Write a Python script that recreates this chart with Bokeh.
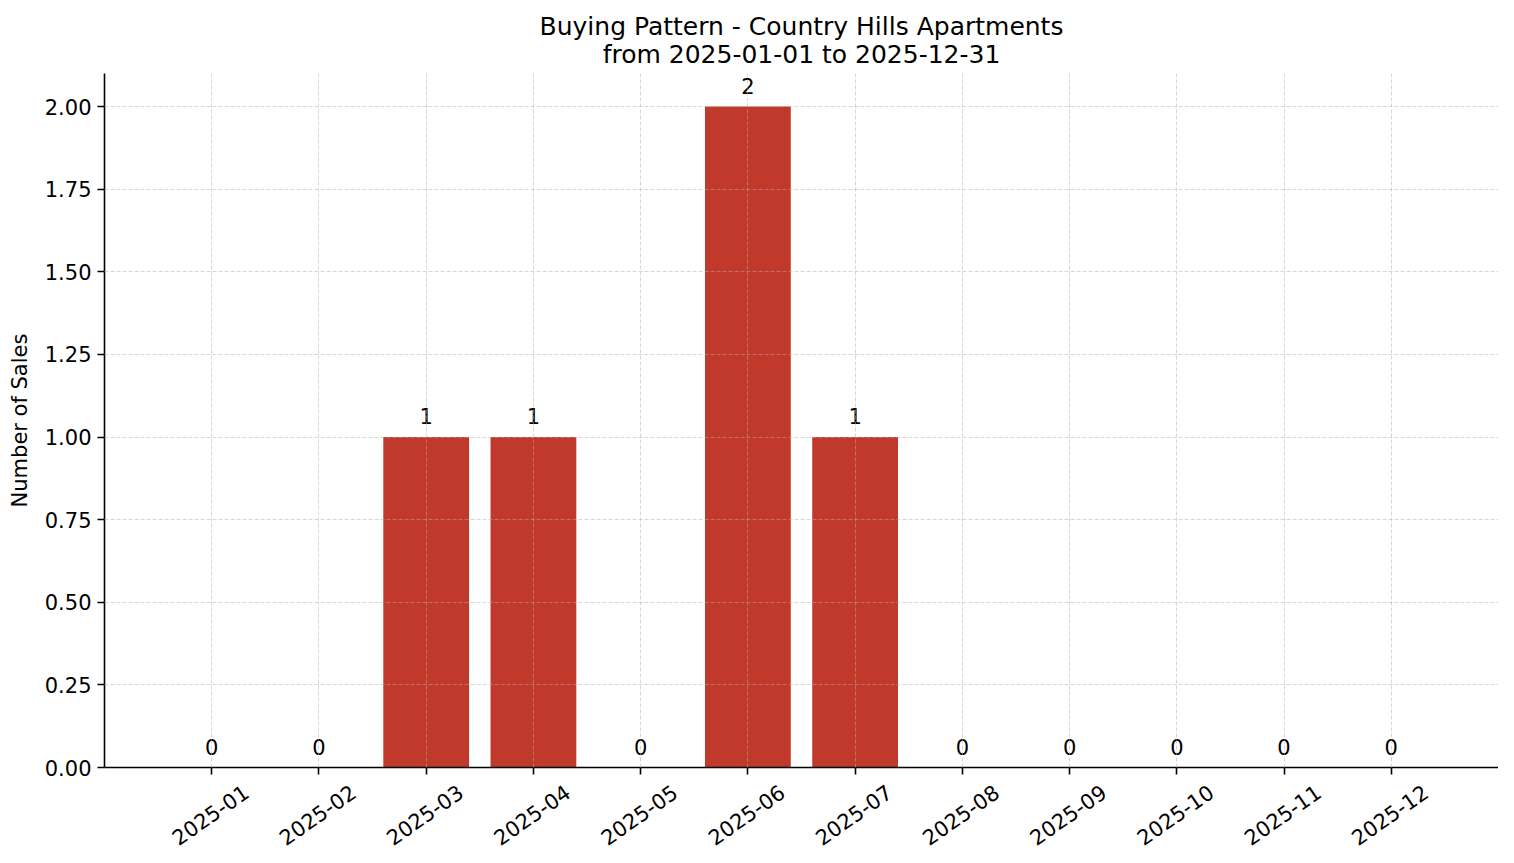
import math

from bokeh.core.properties import value
from bokeh.embed import file_html
from bokeh.models import (ColumnDataSource, CustomLabelingPolicy, FixedTicker, LinearAxis,
                          PrintfTickFormatter, Range1d, Title)
from bokeh.plotting import figure
from bokeh.resources import INLINE

# Data
months = ["2025-01", "2025-02", "2025-03", "2025-04", "2025-05", "2025-06",
          "2025-07", "2025-08", "2025-09", "2025-10", "2025-11", "2025-12"]
sales = [0, 0, 1, 1, 0, 2, 1, 0, 0, 0, 0, 0]
y_ticks = [0.0, 0.25, 0.5, 0.75, 1.0, 1.25, 1.5, 1.75, 2.0]
title_main = "Buying Pattern - Country Hills Apartments"
title_sub = "from 2025-01-01 to 2025-12-31"

idx = list(range(len(months)))
source = ColumnDataSource(data=dict(x=idx, top=sales, label=[str(v) for v in sales]))

FONT = "DejaVu Sans"
BAR = "#c0392b"
X_START, X_END = -1, len(months)
LABEL_SHIFT = 0.32  # rotated labels are anchored at their right end; shift so they centre on the tick

p = figure(
    width=1498,
    height=855,
    x_range=Range1d(X_START, X_END),
    y_range=Range1d(0, 2.1),
    output_backend="svg",
    toolbar_location=None,
    tools="",
)
p.min_border_left = 104
p.min_border_right = 0
p.min_border_top = 73
p.min_border_bottom = 88
p.outline_line_color = None

# Two centred title lines (the first added sits closest to the plot)
for txt, stand in ((title_sub, 10), (title_main, -16)):
    t = Title(text=txt, align="center", text_font=FONT, text_font_size="25px",
              text_font_style="normal", text_color="black", standoff=stand)
    p.add_layout(t, "above")

p.vbar(x="x", top="top", width=0.8, source=source, fill_color=BAR, line_color=None)
p.text(x="x", y="top", text="label", source=source, text_align="center",
       text_baseline="alphabetic", y_offset=-21, text_font=value(FONT),
       text_font_size="21px", text_color="black")

# Axes: the main x axis keeps line and ticks, its own labels are dropped
p.xaxis.ticker = FixedTicker(ticks=idx)
p.xaxis.major_label_policy = CustomLabelingPolicy(code="return []")
p.xaxis.major_label_standoff = 0
p.yaxis.ticker = FixedTicker(ticks=y_ticks)
p.yaxis.formatter = PrintfTickFormatter(format="%.2f")
p.yaxis.axis_label = "Number of Sales"

# Month labels on a shifted twin range, so that each rotated label centres on its tick
p.extra_x_ranges = {"labels": Range1d(X_START - LABEL_SHIFT, X_END - LABEL_SHIFT)}
lab_axis = LinearAxis(x_range_name="labels", ticker=FixedTicker(ticks=idx))
lab_axis.major_label_overrides = {i: m for i, m in enumerate(months)}
lab_axis.major_label_orientation = math.radians(35)
lab_axis.axis_line_color = None
lab_axis.major_tick_line_color = None
lab_axis.minor_tick_line_color = None
lab_axis.major_tick_out = 0
lab_axis.major_tick_in = 0
lab_axis.major_label_standoff = 4
lab_axis.major_label_text_font = FONT
lab_axis.major_label_text_font_size = "21px"
lab_axis.major_label_text_color = "black"
p.add_layout(lab_axis, "below")

for ax in (p.xaxis[0], p.yaxis[0]):
    ax.axis_line_color = "black"
    ax.axis_line_width = 1.6
    ax.major_tick_line_color = "black"
    ax.major_tick_line_width = 1.6
    ax.major_tick_out = 7
    ax.major_tick_in = 0
    ax.minor_tick_line_color = None
    ax.axis_label_text_font = FONT
    ax.axis_label_text_font_size = "21px"
    ax.axis_label_text_font_style = "normal"
    ax.axis_label_text_color = "black"
    ax.axis_label_standoff = 10
p.yaxis.major_label_text_font = FONT
p.yaxis.major_label_text_font_size = "21px"
p.yaxis.major_label_text_color = "black"
p.yaxis.major_label_standoff = 6

# Grid on top of the bars
for g in (p.xgrid, p.ygrid):
    g.level = "annotation"
    g.grid_line_color = "#b0b0b0"
    g.grid_line_alpha = 0.5
    g.grid_line_dash = "4 2"
    g.grid_line_width = 1
p.xgrid.ticker = FixedTicker(ticks=idx)
p.ygrid.ticker = FixedTicker(ticks=y_ticks)

open("out.html", "w").write(file_html(p, INLINE))
